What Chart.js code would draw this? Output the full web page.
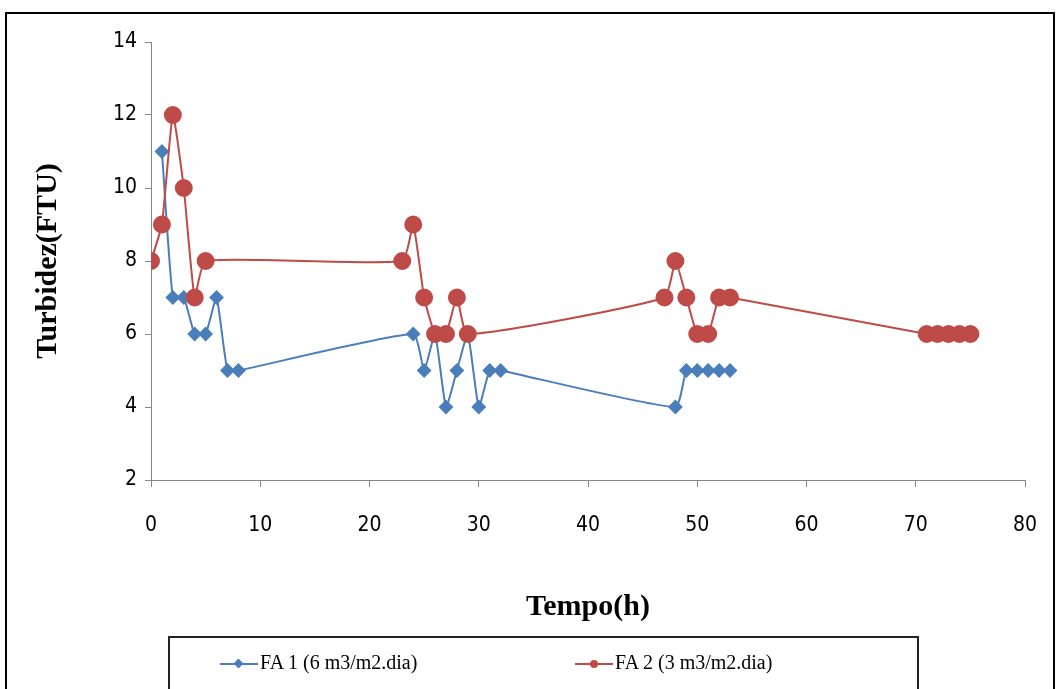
<!DOCTYPE html>
<html>
<head>
<meta charset="utf-8">
<script src="https://cdn.jsdelivr.net/npm/chart.js@4.4.0/dist/chart.umd.min.js"></script>
<style>
  body { margin: 0; background: #fff; overflow: hidden; }
  #frame { position: absolute; left: 5px; top: 12px; width: 1046px; height: 700px; border: 2px solid #000; }
  #wrap { position: absolute; left: 0; top: 0; width: 1058px; height: 689px; }
  #legend { position: absolute; left: 168px; top: 636px; width: 747px; height: 70px; border: 2px solid #222;
            font-family: "Liberation Serif", "Times New Roman", serif; font-size: 20px; color: #000; }
  .item { position: absolute; top: 13px; white-space: nowrap; }
  .mark { position: absolute; top: 12px; width: 38px; height: 2px; }
  .dot { position: absolute; top: -3px; left: 15px; width: 8px; height: 8px; }
</style>
</head>
<body>
<div id="frame"></div>
<div id="wrap"><canvas id="turbidez"></canvas></div>
<div id="legend">
  <div class="item" style="left:50px;">
    <span class="mark" style="left:0;background:#4a7ebb;"><span class="dot" style="background:#4a7ebb;transform:rotate(45deg);width:7px;height:7px;left:15px;top:-3px;"></span></span>
    <span style="position:absolute;left:40px;">FA 1 (6 m3/m2.dia)</span>
  </div>
  <div class="item" style="left:405px;">
    <span class="mark" style="left:0;background:#be4b48;"><span class="dot" style="background:#be4b48;border-radius:50%;"></span></span>
    <span style="position:absolute;left:40px;">FA 2 (3 m3/m2.dia)</span>
  </div>
</div>
<script>
let fa1Hours = [1, 2, 3, 4, 5, 6, 7, 8, 24, 25, 26, 27, 28, 29, 30, 31, 32, 48, 49, 50, 51, 52, 53];
let fa1Values = [11, 7, 7, 6, 6, 7, 5, 5, 6, 5, 6, 4, 5, 6, 4, 5, 5, 4, 5, 5, 5, 5, 5];

let fa2Hours = [0, 1, 2, 3, 4, 5, 23, 24, 25, 26, 27, 28, 29, 47, 48, 49, 50, 51, 52, 53, 71, 72, 73, 74, 75];
let fa2Values = [8, 9, 12, 10, 7, 8, 8, 9, 7, 6, 6, 7, 6, 7, 8, 7, 6, 6, 7, 7, 6, 6, 6, 6, 6];

let xTicks = [0, 10, 20, 30, 40, 50, 60, 70, 80];
let yTicks = [2, 4, 6, 8, 10, 12, 14];

const axisGray = '#868686';
const tickFont = { family: '"Liberation Sans Narrow", "DejaVu Sans Condensed", "Liberation Sans", sans-serif', size: 21 };
const titleFont = { family: '"Liberation Serif", "Times New Roman", serif', size: 30, weight: 'bold' };

function pts(xs, ys) {
    return xs.map((x, i) => ({ x: x, y: ys[i] }));
}

const data = {
    datasets: [{
        label: 'FA 1 (6 m3/m2.dia)',
        data: pts(fa1Hours, fa1Values),
        borderColor: '#4a7ebb',
        backgroundColor: '#4a7ebb',
        borderWidth: 2,
        pointStyle: 'rectRot',
        pointRadius: 6,
        tension: 0.15,
        order: 1
    }, {
        label: 'FA 2 (3 m3/m2.dia)',
        data: pts(fa2Hours, fa2Values),
        borderColor: '#be4b48',
        backgroundColor: '#be4b48',
        borderWidth: 2,
        pointStyle: 'circle',
        pointRadius: 8,
        tension: 0.15,
        order: 0
    }]
};

const config = {
    type: 'line',
    data: data,
    options: {
        responsive: false,
        animation: false,
        layout: { padding: { left: 20, right: 33, top: 42, bottom: 0 } },
        plugins: { legend: { display: false }, tooltip: { enabled: false } },
        scales: {
            x: {
                type: 'linear',
                min: 0,
                max: 80,
                afterBuildTicks: s => { s.ticks = xTicks.map(v => ({ value: v })); },
                afterFit: s => { s.height = 209; s.paddingLeft = 0; s.paddingRight = 0; },
                border: { color: axisGray, width: 1 },
                grid: { drawOnChartArea: false, drawTicks: true, tickLength: 7, color: axisGray },
                ticks: { font: tickFont, color: '#000', padding: 26, maxRotation: 0 },
                title: { display: true, text: 'Tempo(h)', font: titleFont, color: '#000', padding: { top: 0, bottom: 64 } }
            },
            y: {
                min: 2,
                max: 14,
                afterBuildTicks: s => { s.ticks = yTicks.map(v => ({ value: v })); },
                afterFit: s => { s.width = 131; },
                border: { color: axisGray, width: 1 },
                grid: { drawOnChartArea: false, drawTicks: true, tickLength: 6, color: axisGray },
                ticks: { font: tickFont, color: '#000', padding: 8 },
                title: { display: true, text: 'Turbidez(FTU)', font: titleFont, color: '#000', padding: { top: 10, bottom: 0 } }
            }
        }
    }
};

const canvas = document.getElementById('turbidez');
canvas.width = 1058;
canvas.height = 689;
const chart = new Chart(canvas, config);
</script>
</body>
</html>
